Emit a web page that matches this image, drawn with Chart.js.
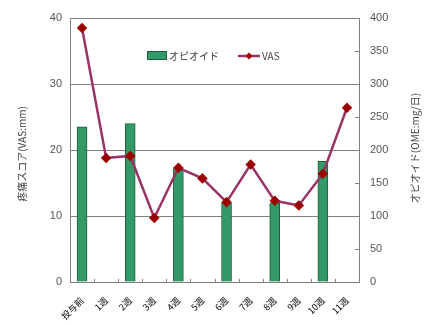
<!doctype html>
<html>
<head>
  <title>疼痛スコアとオピオイド</title>
  <script src="https://cdn.jsdelivr.net/npm/chart.js@4/dist/chart.umd.min.js"></script>
  <style>
    body { margin: 0; background: #fff; }
    #container { width: 432px; height: 325px; }
  </style>
</head>
<body>
<div id="container">
  <canvas id="canvas"></canvas>
</div>
<script>
  var WEEKS = ['投与前', '1週', '2週', '3週', '4週', '5週', '6週', '7週', '8週', '9週', '10週', '11週'];
  // オピオイド (OME mg/日), only measured every other week
  var OPIOID = [235, null, 240, null, 172, null, 120, null, 120, null, 183, null];
  // VAS (mm)
  var VAS = [38.5, 18.8, 19.1, 9.7, 17.3, 15.7, 12.1, 17.8, 12.3, 11.6, 16.4, 26.4];

  var JP = '"Noto Sans CJK JP", "Noto Sans", sans-serif';
  var GRAY = '#808080';

  // legend drawn inside the plot, axis titles reading bottom-to-top, inner tick marks
  var decor = {
    id: 'decor',
    afterDraw: function (chart) {
      var ctx = chart.ctx;
      var area = chart.chartArea;
      var x = chart.scales.x;
      var y2 = chart.scales.y2;
      ctx.save();

      // inner tick marks on x axis (category boundaries)
      ctx.strokeStyle = GRAY;
      ctx.lineWidth = 1;
      ctx.beginPath();
      for (var i = 1; i < WEEKS.length; i++) {
        var bx = Math.round((x.getPixelForValue(i - 1) + x.getPixelForValue(i)) / 2) + 0.5;
        ctx.moveTo(bx, area.bottom);
        ctx.lineTo(bx, area.bottom - 3);
      }
      // inner tick marks on right axis
      for (var v = 50; v < 400; v += 100) {
        var ty = Math.round(y2.getPixelForValue(v)) + 0.5;
        ctx.moveTo(area.right, ty);
        ctx.lineTo(area.right - 4, ty);
      }
      ctx.stroke();

      // legend
      ctx.font = '10px ' + JP;
      ctx.textBaseline = 'middle';
      ctx.fillStyle = '#339966';
      ctx.strokeStyle = '#1e5e3e';
      ctx.fillRect(147, 51, 20, 9);
      ctx.strokeRect(147.5, 51.5, 19, 8);
      ctx.fillStyle = '#444';
      ctx.fillText('オピオイド', 169, 56);

      ctx.strokeStyle = '#993366';
      ctx.lineWidth = 2.5;
      ctx.beginPath();
      ctx.moveTo(238, 56);
      ctx.lineTo(260, 56);
      ctx.stroke();
      ctx.fillStyle = '#990000';
      ctx.beginPath();
      ctx.moveTo(249, 52.5);
      ctx.lineTo(252.5, 56);
      ctx.lineTo(249, 59.5);
      ctx.lineTo(245.5, 56);
      ctx.closePath();
      ctx.fill();
      ctx.fillStyle = '#444';
      ctx.fillText('VAS', 262, 56);

      // axis titles
      ctx.textAlign = 'center';
      ctx.fillStyle = '#444';
      ctx.font = '10px ' + JP;
      ctx.translate(22, 154);
      ctx.rotate(-Math.PI / 2);
      ctx.fillText('疼痛スコア(VAS:mm)', 0, 0);
      ctx.setTransform(1, 0, 0, 1, 0, 0);
      ctx.translate(415, 148);
      ctx.rotate(-Math.PI / 2);
      ctx.fillText('オピオイド(OME:mg/日)', 0, 0);
      ctx.restore();
    }
  };

  window.onload = function () {
    var ctx = document.getElementById('canvas').getContext('2d');
    window.myChart = new Chart(ctx, {
      data: {
        labels: WEEKS,
        datasets: [{
          type: 'line',
          label: 'VAS',
          data: VAS,
          yAxisID: 'y',
          borderColor: '#993366',
          borderWidth: 2.5,
          pointStyle: 'rectRot',
          pointRadius: 3.5,
          pointBackgroundColor: '#990000',
          pointBorderColor: '#990000',
          tension: 0,
          order: 0
        }, {
          type: 'bar',
          label: 'オピオイド',
          data: OPIOID,
          yAxisID: 'y2',
          backgroundColor: '#339966',
          borderColor: '#1e5e3e',
          borderWidth: 1,
          barThickness: 10,
          order: 1
        }]
      },
      options: {
        responsive: true,
        maintainAspectRatio: false,
        animation: false,
        layout: { padding: { top: 18, left: 0, right: 0, bottom: 0 } },
        plugins: {
          legend: { display: false },
          tooltip: { enabled: false }
        },
        scales: {
          x: {
            offset: true,
            grid: { display: false },
            border: { display: true, color: GRAY },
            ticks: {
              minRotation: 45,
              maxRotation: 45,
              autoSkip: false,
              padding: 5,
              color: '#000',
              font: { family: JP, size: 9 }
            },
            afterFit: function (scale) { scale.height = 43; }
          },
          y: {
            position: 'left',
            min: 0,
            max: 40,
            grid: { color: GRAY, drawTicks: false },
            border: { display: true, color: GRAY },
            ticks: {
              stepSize: 10,
              padding: 8,
              color: '#555',
              font: { family: 'Liberation Sans, Arial, sans-serif', size: 11 }
            },
            afterFit: function (scale) { scale.width = 70; }
          },
          y2: {
            position: 'right',
            min: 0,
            max: 400,
            grid: { drawOnChartArea: false, drawTicks: false },
            border: { display: true, color: GRAY },
            ticks: {
              stepSize: 50,
              padding: 11,
              color: '#555',
              font: { family: 'Liberation Sans, Arial, sans-serif', size: 11 }
            },
            afterFit: function (scale) { scale.width = 73; }
          }
        }
      },
      plugins: [decor]
    });
  };
</script>
</body>
</html>
